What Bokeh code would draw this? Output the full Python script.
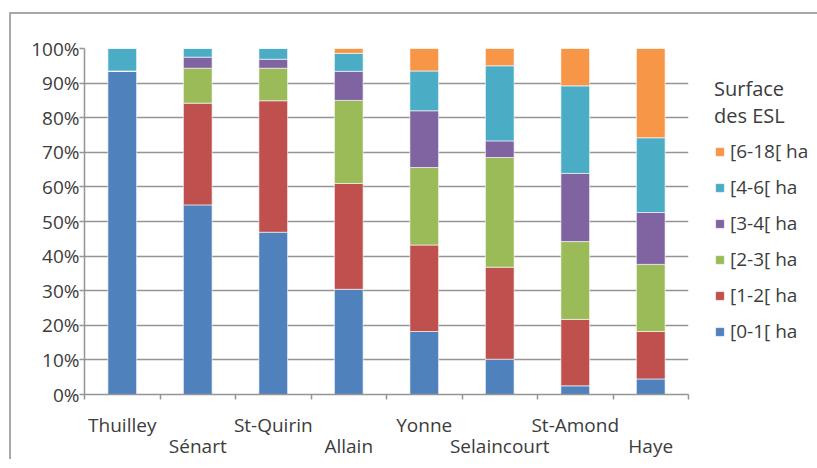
from bokeh.plotting import figure
from bokeh.layouts import column
from bokeh.models import (ColumnDataSource, Range1d, FixedTicker,
                          Legend, LegendItem, InlineStyleSheet)
from bokeh.embed import file_html
from bokeh.resources import INLINE

sites = ["Thuilley", "Sénart", "St-Quirin", "Allain", "Yonne",
         "Selaincourt", "St-Amond", "Haye"]
classes = ["[0-1[ ha", "[1-2[ ha", "[2-3[ ha", "[3-4[ ha", "[4-6[ ha", "[6-18[ ha"]
s0_1 = [93.5, 54.8, 46.9, 30.4, 18.2, 10.2, 2.5, 4.5]
s1_2 = [0.0, 29.4, 38.0, 30.6, 25.0, 26.6, 19.2, 13.7]
s2_3 = [0.0, 10.1, 9.4, 24.0, 22.4, 31.7, 22.5, 19.4]
s3_4 = [0.0, 3.2, 2.6, 8.4, 16.4, 4.8, 19.7, 15.0]
s4_6 = [6.5, 2.5, 3.1, 5.2, 11.5, 21.7, 25.3, 21.6]
s6_18 = [0.0, 0.0, 0.0, 1.4, 6.5, 5.0, 10.8, 25.8]
y_ticks = list(range(0, 101, 10))
colors = ["#4F81BD", "#C0504D", "#9BBB59", "#8064A2", "#4BACC6", "#F79646"]

FONT = "Open Sans"
FS = "19px"
TXT = "#3c3c3c"
GRID = "#959595"

xs = list(range(len(sites)))
keys = ["c0", "c1", "c2", "c3", "c4", "c5"]
src = ColumnDataSource(dict(x=xs, c0=s0_1, c1=s1_2, c2=s2_3, c3=s3_4, c4=s4_6, c5=s6_18))

p = figure(output_backend="svg", toolbar_location=None,
           frame_width=604, frame_height=346,
           x_range=Range1d(-0.5, len(sites) - 0.5), y_range=Range1d(0, 100),
           min_border_left=73, min_border_top=34, min_border_right=118,
           min_border_bottom=62)
p.outline_line_color = None
p.background_fill_color = "white"
p.border_fill_color = "white"

renderers = p.vbar_stack(keys, x="x", width=0.38, source=src, color=colors,
                         line_color="white", line_width=0.6)

# y axis
ya = p.yaxis[0]
ya.ticker = FixedTicker(ticks=y_ticks)
ya.major_label_overrides = {t: f"{t}%" for t in y_ticks}
ya.axis_line_color = GRID
ya.axis_line_width = 1.5
ya.major_tick_line_color = GRID
ya.major_tick_line_width = 1.5
ya.major_tick_in = 0
ya.major_tick_out = 5
ya.minor_tick_line_color = None
ya.major_label_text_font = FONT
ya.major_label_text_font_size = FS
ya.major_label_text_color = TXT
ya.major_label_standoff = 0

p.ygrid.ticker = FixedTicker(ticks=y_ticks)
p.ygrid.grid_line_color = GRID
p.ygrid.grid_line_width = 1.5
p.xgrid.grid_line_color = None

# x axis: labels staggered on two rows, ticks between categories
bounds = [i - 0.5 for i in range(len(sites) + 1)]
xa = p.xaxis[0]
xa.ticker = FixedTicker(ticks=xs, minor_ticks=bounds)
xa.major_label_overrides = {i: (sites[i] if i % 2 == 0 else "\n" + sites[i]) for i in xs}
xa.axis_line_color = GRID
xa.axis_line_width = 1.5
xa.major_tick_line_color = None
xa.major_tick_in = 0
xa.major_tick_out = 0
xa.minor_tick_line_color = GRID
xa.minor_tick_line_width = 1.5
xa.minor_tick_in = 0
xa.minor_tick_out = 5
xa.major_label_text_font = FONT
xa.major_label_text_font_size = FS
xa.major_label_text_color = TXT
xa.major_label_text_line_height = 0.82
xa.major_label_standoff = 12

items = [LegendItem(label=classes[i], renderers=[renderers[i]]) for i in reversed(range(6))]
legend = Legend(items=items, location=(26, 50), orientation="vertical",
                title="Surface\ndes ESL",
                title_text_font=FONT, title_text_font_size="20px",
                title_text_color=TXT, title_text_font_style="normal",
                title_text_line_height=0.85,
                title_standoff=9,
                padding=0, margin=0, border_line_color=None,
                background_fill_alpha=0, glyph_width=11, glyph_height=11,
                label_standoff=5, spacing=10, label_height=26,
                label_text_font=FONT, label_text_font_size="19px",
                label_text_color=TXT)
p.add_layout(legend, "right")

root = column(p)
root.stylesheets = [InlineStyleSheet(css=(
    ":host { margin-left: 11px; margin-top: 14px; "
    "box-shadow: -2px -2px 0 0 #a8a8a8; }"))]

open("out.html", "w").write(file_html(root, INLINE))
